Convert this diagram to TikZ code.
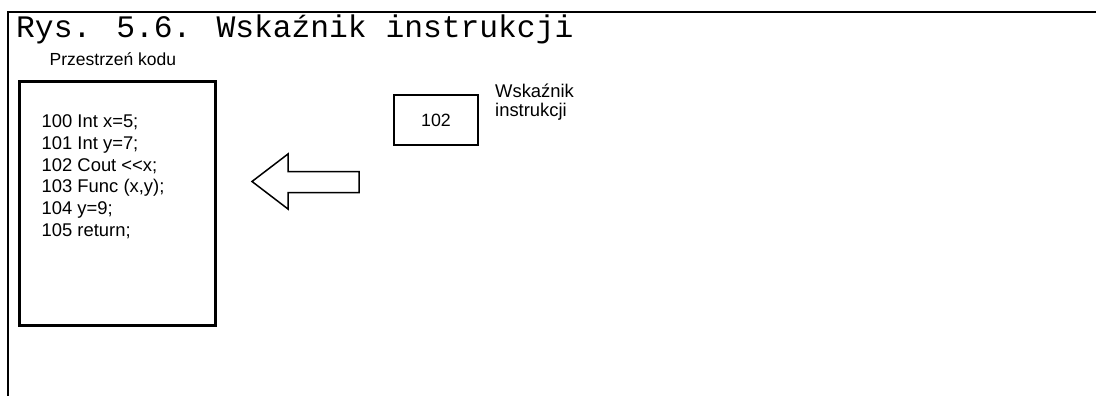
\documentclass[tikz,border=0pt]{standalone}
\usepackage{fontspec}
\setmainfont{Liberation Sans}[Ligatures=NoCommon]
\newfontfamily\titlefnt{Liberation Mono}
\begin{document}
\begin{tikzpicture}[x=1pt,y=-1pt,
  txt/.style={inner sep=0pt,anchor=base west,font=\fontsize{17.5}{21}\selectfont},
  codeline/.style={inner sep=0pt,anchor=base west,font=\fontsize{18.4}{21}\selectfont},
  codebox/.style={draw,line width=3pt,minimum width=196pt,minimum height=244pt,inner sep=0pt},
  ptrbox/.style={draw,line width=1.8pt,minimum width=84pt,minimum height=50pt,inner sep=0pt,font=\fontsize{17.8}{21}\selectfont},
  frameline/.style={line width=2pt},
  bigarrow/.style={line width=1.5pt,line join=miter}]
\useasboundingbox (0,0) rectangle (1096,396);
% frame
\coordinate (ftl) at (8,12);
\coordinate (ftr) at (1096,12);
\coordinate (fbl) at (8,396);
\draw[frameline] (fbl) -- (ftl) -- (ftr);
% title
\node[anchor=base west,inner sep=0pt,font=\titlefnt\fontsize{31.3}{36}\selectfont] (title) at (16,37.5) {Rys. 5.6. Wskaźnik instrukcji};
% code space
\node[txt] (cslabel) at (49.5,66) {Przestrzeń kodu};
\node[codebox] (code) at (117.3,203.5) {};
\node[codeline] (l0) at (41.5,127.7) {100 Int x=5;};
\node[codeline] (l1) at (41.5,149.4) {101 Int y=7;};
\node[codeline] (l2) at (41.5,171.1) {102 Cout {<}{<}x;};
\node[codeline] (l3) at (41.5,192.8) {103 Func (x,y);};
\node[codeline] (l4) at (41.5,214.5) {104 y=9;};
\node[codeline] (l5) at (41.5,236.2) {105 return;};
% arrow
\draw[bigarrow] (252,181.5) -- (288,154) -- (288,171.5) -- (359,171.5) -- (359,192.5) -- (288,192.5) -- (288,209) -- cycle;
% pointer
\node[ptrbox] (ptr) at (436,120) {102};
\node[inner sep=0pt,anchor=base west,align=left,font=\fontsize{18.4}{18.5}\selectfont] (ptrlabel) at (495,116.5) {Wskaźnik\\instrukcji};
\end{tikzpicture}
\end{document}
